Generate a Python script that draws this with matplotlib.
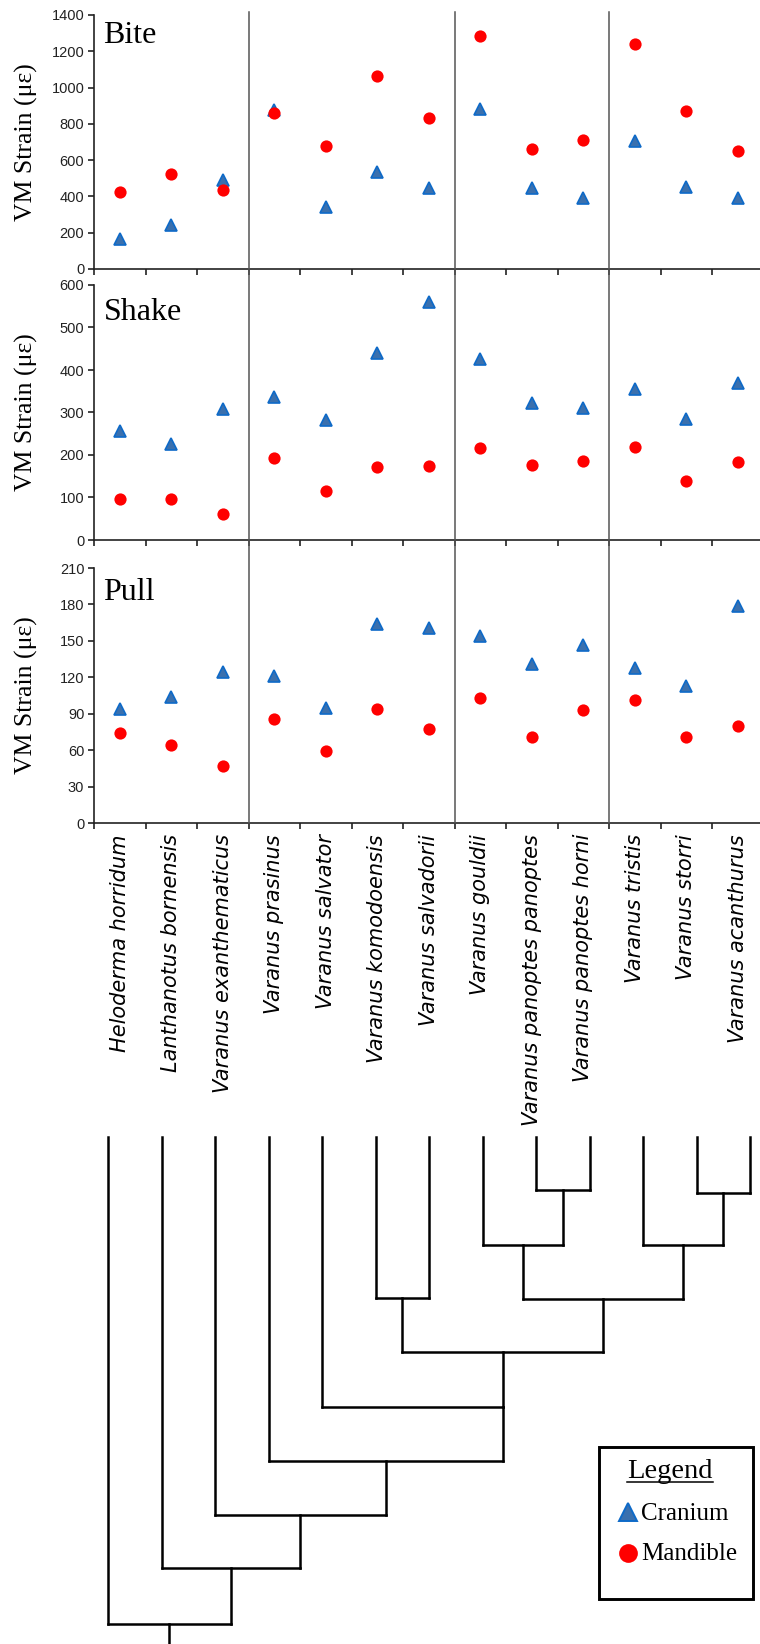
import matplotlib
matplotlib.use("Agg")
import matplotlib.pyplot as plt
import numpy as np
from matplotlib.transforms import blended_transform_factory
from matplotlib.patches import Rectangle

# ---------------- data ----------------
species = ["Heloderma horridum", "Lanthanotus bornensis", "Varanus exanthematicus",
           "Varanus prasinus", "Varanus salvator", "Varanus komodoensis",
           "Varanus salvadorii", "Varanus gouldii", "Varanus panoptes panoptes",
           "Varanus panoptes horni", "Varanus tristis", "Varanus storri",
           "Varanus acanthurus"]

bite_cranium = [165, 241, 490, 875, 343, 536, 448, 884, 445, 393, 706, 454, 393]
bite_mandible = [423, 524, 435, 860, 678, 1064, 830, 1286, 663, 711, 1242, 871, 652]
shake_cranium = [256, 227, 309, 336, 282, 441, 561, 427, 322, 310, 356, 284, 369]
shake_mandible = [96, 96, 61, 193, 115, 172, 175, 216, 177, 186, 219, 138, 183]
pull_cranium = [94, 104, 124, 121, 95, 164, 161, 154, 131, 147, 128, 113, 179]
pull_mandible = [74, 64, 47, 86, 59, 94, 77, 103, 71, 93, 101, 71, 80]

panel_names = ["Bite", "Shake", "Pull"]
y_max = [1400, 600, 210]
y_step = [200, 100, 30]
group_bounds = [3, 7, 10]

# phylogeny: internal nodes (left child, right child, node depth, stem rule)
tree_nodes = [
    ("A", 8, 9, 1190, "mid"),
    ("B", 7, "A", 1245, "mid"),
    ("C", 11, 12, 1193, "mid"),
    ("D", 10, "C", 1245, "mid"),
    ("E", "B", "D", 1299, "mid"),
    ("F", 5, 6, 1298, "mid"),
    ("G", "F", "E", 1352, "mid"),
    ("H", 4, "G", 1407, "right"),
    ("I", 3, "H", 1461, "mid"),
    ("J", 2, "I", 1515, "mid"),
    ("K", 1, "J", 1568, "mid"),
    ("L", 0, "K", 1624, "mid"),
]

# ---------------- layout ----------------
W, H = 760, 1644
fig = plt.figure(figsize=(W / 100, H / 100), dpi=100)
fig.patch.set_facecolor("white")


def rect(l, t, r, b):
    return [l / W, 1 - b / H, (r - l) / W, (b - t) / H]


panel_px = [(94, 15, 763.5, 269), (94, 285, 763.5, 540), (94, 568, 763.5, 823)]
series = [(bite_cranium, bite_mandible), (shake_cranium, shake_mandible),
          (pull_cranium, pull_mandible)]

n = len(species)
xc = np.arange(n) + 0.5
axes = []
for i, (px, (cr, md)) in enumerate(zip(panel_px, series)):
    ax = fig.add_axes(rect(*px))
    ax.set_xlim(0, n)
    ax.set_ylim(0, y_max[i])
    for s in ("top", "right"):
        ax.spines[s].set_visible(False)
    for s in ("left", "bottom"):
        ax.spines[s].set_linewidth(1.2)
        ax.spines[s].set_color("#222222")
    ax.set_yticks(np.arange(0, y_max[i] + 1, y_step[i]))
    ax.set_xticks(np.arange(n + 1))
    ax.tick_params(axis="both", which="major", direction="out", length=4,
                   width=1.2, color="#222222", labelsize=10.5, labelcolor="#222222",
                   pad=3)
    ax.tick_params(axis="x", which="major", labelbottom=False)
    for lab in ax.get_yticklabels():
        lab.set_fontfamily("Liberation Sans")
    ax.set_xticks(xc, minor=True)
    if i == 2:
        ax.set_xticklabels(species, minor=True, rotation=90, fontsize=15,
                           fontstyle="italic", family="DejaVu Sans",
                           va="top", ha="center")
        ax.tick_params(axis="x", which="minor", length=0, pad=8)
    else:
        ax.tick_params(axis="x", which="minor", length=0, labelbottom=False)
    ax.plot(xc, cr, ls="none", marker="^", ms=9, mfc="#3A70AE", mec="#0E6AC8",
            mew=1.2, clip_on=False, zorder=3)
    ax.plot(xc, md, ls="none", marker="o", ms=8.8, mfc="#FF0000", mec="none",
            clip_on=False, zorder=4)
    ax.set_ylabel("VM Strain (\u03bc\u03b5)", fontsize=18.5, family="Liberation Serif")
    ax.yaxis.set_label_coords(-0.083, 0.5)
    axes.append(ax)

# overlay in pixel coordinates
ov = fig.add_axes([0, 0, 1, 1])
ov.set_xlim(0, W)
ov.set_ylim(H, 0)
ov.axis("off")
ov.patch.set_visible(False)

# group separators
bt = blended_transform_factory(axes[0].transData, ov.transData)
for b in group_bounds:
    ov.plot([b, b], [12, 823], color="#555555", lw=1.1, transform=bt, zorder=1)

# panel titles
title_pos = [(103, 43), (104, 320), (103, 600)]
for name, (tx, ty) in zip(panel_names, title_pos):
    ov.text(tx, ty, name, fontsize=23, family="Liberation Serif", va="baseline",
            ha="left", color="black")

# ---------------- phylogeny ----------------
tip_top = 1137
tree_x0, tree_dx = 108, 53.5
node_x, node_y = {}, {}


def cx(c):
    return tree_x0 + c * tree_dx if isinstance(c, int) else node_x[c]


def cy(c):
    return tip_top if isinstance(c, int) else node_y[c]


tree_kw = dict(color="black", lw=1.8, solid_capstyle="projecting", zorder=2)
for name, left, right, depth, rule in tree_nodes:
    xl, xr = cx(left), cx(right)
    ov.plot([xl, xl], [cy(left), depth], **tree_kw)
    ov.plot([xr, xr], [cy(right), depth], **tree_kw)
    ov.plot([xl, xr], [depth, depth], **tree_kw)
    node_x[name] = (xl + xr) / 2 if rule == "mid" else xr
    node_y[name] = depth
root = tree_nodes[-1][0]
ov.plot([node_x[root], node_x[root]], [node_y[root], H + 5], **tree_kw)

# ---------------- legend ----------------
ov.add_patch(Rectangle((599, 1447), 154, 152, fill=False, ec="black", lw=2.1,
                       zorder=2))
lt = ov.text(670, 1478, "Legend", fontsize=20.5, family="Liberation Serif",
             ha="center", va="baseline")
fig.canvas.draw()
bb = lt.get_window_extent().transformed(ov.transData.inverted())
ov.plot([bb.x0, bb.x1], [1482, 1482], color="black", lw=1.1)
ov.plot([628], [1512], ls="none", marker="^", ms=13, mfc="#3A70AE", mec="#0E6AC8",
        mew=1.4)
ov.text(641, 1520, "Cranium", fontsize=18, family="Liberation Serif",
        va="baseline", ha="left")
ov.plot([628], [1553], ls="none", marker="o", ms=13.5, mfc="#FF0000", mec="none")
ov.text(641, 1560, "Mandible", fontsize=18, family="Liberation Serif",
        va="baseline", ha="left")

fig.savefig("out.png", dpi=100, facecolor="white")
